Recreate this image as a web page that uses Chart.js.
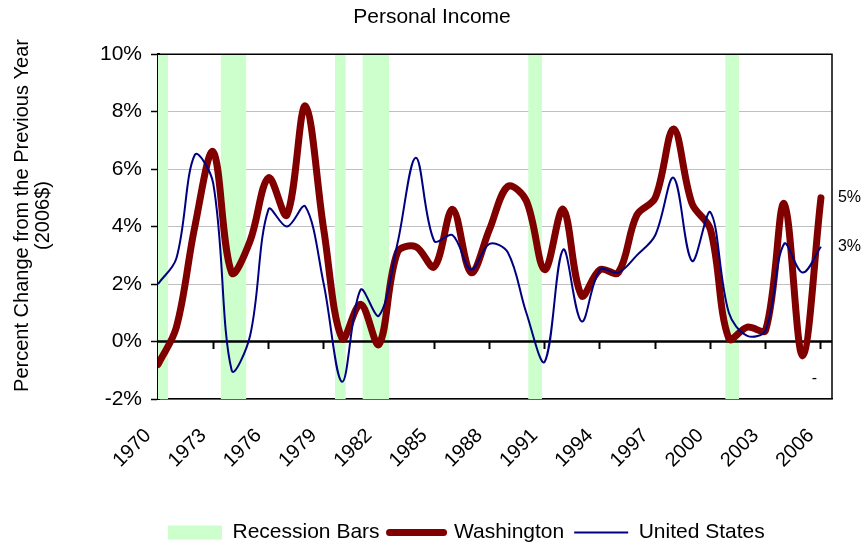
<!DOCTYPE html>
<html>
<head>
<meta charset="utf-8">
<title>Personal Income</title>
<script src="https://cdn.jsdelivr.net/npm/chart.js@4.4.1/dist/chart.umd.min.js"></script>
<style>
  html, body { margin: 0; padding: 0; background: #fff; }
</style>
</head>
<body>
<canvas id="incomeChart" width="864" height="548"></canvas>
<script>
const years = [1970, 1971, 1972, 1973, 1974, 1975, 1976, 1977, 1978, 1979,
               1980, 1981, 1982, 1983, 1984, 1985, 1986, 1987, 1988, 1989,
               1990, 1991, 1992, 1993, 1994, 1995, 1996, 1997, 1998, 1999,
               2000, 2001, 2002, 2003, 2004, 2005, 2006];

// percent change from previous year, 2006 dollars
const washington = [-0.8, 0.5, 4.0, 6.6, 2.4, 3.5, 5.7, 4.4, 8.2, 3.9,
                    0.1, 1.3, -0.1, 3.1, 3.3, 2.6, 4.6, 2.4, 3.9, 5.4,
                    4.9, 2.5, 4.6, 1.6, 2.5, 2.4, 4.4, 5.0, 7.4, 4.8,
                    3.9, 0.1, 0.5, 0.4, 4.8, -0.5, 5.0];
const unitedStates = [2.0, 2.9, 6.5, 5.5, -1.0, 0.2, 4.6, 4.0, 4.7, 2.0,
                      -1.4, 1.8, 0.9, 3.4, 6.4, 3.5, 3.7, 2.5, 3.4, 3.1,
                      1.0, -0.7, 3.2, 0.7, 2.5, 2.4, 3.0, 3.7, 5.7, 2.8,
                      4.5, 1.0, 0.2, 0.4, 3.4, 2.4, 3.3];

const recessionStart = [1970.0, 1973.4, 1979.6, 1981.1, 1990.1, 2000.8];
const recessionEnd   = [1970.55, 1974.8, 1980.2, 1982.55, 1990.85, 2001.55];

const tickYears = [1970, 1973, 1976, 1979, 1982, 1985, 1988, 1991, 1994, 1997, 2000, 2003, 2006];
const xMin = 1970, xMax = 2006.6;
const yMin = -2, yMax = 10, yStep = 2;

// stray marker text sitting under the last Washington dip
const notes = [{x: 2005.5, y: -1.3, text: '-'}];

const recessionColor = '#CCFFCC';
const waColor = '#800000';
const usColor = '#000080';
const fontFamily = "Arial, 'Liberation Sans', sans-serif";

Chart.defaults.font.family = fontFamily;
Chart.defaults.color = '#000';

function toPoints(vals) {
  return vals.map((v, i) => ({x: years[i], y: v}));
}

// each recession is a flat run at the top of the axis, broken by a null,
// filled down to the bottom of the axis
let recessionPoints = [];
recessionStart.forEach((s, i) => {
  recessionPoints.push({x: s, y: yMax}, {x: recessionEnd[i], y: yMax}, {x: recessionEnd[i], y: null});
});

const setTicks = axis => { axis.ticks = tickYears.map(v => ({value: v})); };

const frameAndLabels = {
  id: 'frameAndLabels',
  afterDatasetsDraw(chart) {
    const {ctx, chartArea: a, scales} = chart;
    ctx.save();
    ctx.strokeStyle = '#000';
    ctx.lineWidth = 1.5;
    ctx.beginPath();
    ctx.moveTo(a.left, a.top);
    ctx.lineTo(a.right, a.top);
    ctx.lineTo(a.right, a.bottom);
    ctx.stroke();

    ctx.fillStyle = '#000';
    ctx.font = '16px ' + fontFamily;
    ctx.textAlign = 'left';
    ctx.textBaseline = 'middle';
    chart.data.datasets.forEach((ds, i) => {
      if (!ds.endLabel) return;
      const meta = chart.getDatasetMeta(i);
      const last = meta.data[meta.data.length - 1];
      const v = ds.data[ds.data.length - 1].y;
      ctx.fillText(Math.round(v) + '%', last.x + 17, last.y);
    });
    notes.forEach(n => {
      ctx.fillText(n.text, scales.x.getPixelForValue(n.x), scales.y.getPixelForValue(n.y));
    });
    ctx.restore();
  }
};

let incomeChart = new Chart(document.getElementById('incomeChart'), {
  type: 'line',
  data: {
    datasets: [
      {
        label: 'Recession Bars',
        data: recessionPoints,
        borderColor: 'rgba(0,0,0,0)',
        borderWidth: 0,
        backgroundColor: recessionColor,
        fill: {value: yMin},
        pointRadius: 0,
        tension: 0,
        spanGaps: false,
        order: 4,
      },
      {
        label: 'zero',
        data: [{x: xMin, y: 0}, {x: xMax, y: 0}],
        borderColor: '#000',
        borderWidth: 2.5,
        pointRadius: 0,
        tension: 0,
        order: 3,
      },
      {
        label: 'Washington',
        data: toPoints(washington),
        borderColor: waColor,
        borderWidth: 7,
        borderCapStyle: 'round',
        borderJoinStyle: 'round',
        pointRadius: 0,
        tension: 0.35,
        endLabel: true,
        order: 2,
      },
      {
        label: 'United States',
        data: toPoints(unitedStates),
        borderColor: usColor,
        borderWidth: 2,
        pointRadius: 0,
        tension: 0.35,
        endLabel: true,
        order: 1,
      },
    ]
  },
  options: {
    responsive: false,
    animation: false,
    events: [],
    layout: { padding: { top: 0, right: 0, bottom: -5, left: 0 } },
    scales: {
      x: {
        type: 'linear',
        min: xMin,
        max: xMax,
        afterBuildTicks: setTicks,
        afterFit: axis => { axis.height = 113; },
        ticks: {
          autoSkip: false,
          minRotation: 45,
          maxRotation: 45,
          padding: 25,
          labelOffset: -10,
          font: { size: 20 },
          callback: v => String(v),
        },
        grid: { display: false, drawTicks: false },
        border: { color: '#000', width: 1.5 },
      },
      // tick marks hanging off the zero line
      xZero: {
        type: 'linear',
        axis: 'x',
        position: { y: 0 },
        min: xMin,
        max: xMax,
        afterBuildTicks: setTicks,
        ticks: { display: false },
        grid: { drawOnChartArea: false, drawTicks: true, tickLength: 7, tickColor: '#000', tickWidth: 2 },
        border: { display: false },
      },
      y: {
        min: yMin,
        max: yMax,
        afterFit: axis => { axis.width = 158; },
        ticks: {
          stepSize: yStep,
          padding: 9,
          font: { size: 21 },
          callback: v => v + '%',
        },
        grid: { color: '#C0C0C0', lineWidth: 1, tickColor: '#000', tickLength: 7, tickWidth: 1.5 },
        border: { color: '#000', width: 3 },
        title: {
          display: true,
          // leading spaces lift the title a little above the plot's midline
          text: ['    Percent Change from the Previous Year', '    (2006$)'],
          font: { size: 20, lineHeight: 1.05 },
          padding: { top: 12, bottom: 0 },
        },
      },
      // empty strip on the right that holds room for the end labels
      yRight: {
        position: 'right',
        afterFit: axis => { axis.width = 32; },
        ticks: { display: false },
        grid: { drawOnChartArea: false, drawTicks: false },
        border: { display: false },
      },
    },
    plugins: {
      title: {
        display: true,
        text: 'Personal Income',
        font: { size: 21, weight: 'normal' },
        padding: { top: 5, bottom: 24 },
      },
      legend: {
        position: 'bottom',
        align: 'start',
        fullSize: false,
        labels: {
          usePointStyle: true,
          pointStyleWidth: 54,
          boxHeight: 14,
          padding: 10,
          font: { size: 21 },
          color: '#000',
          generateLabels: () => [
            { text: 'Recession Bars', fillStyle: recessionColor, strokeStyle: recessionColor, lineWidth: 0,
              pointStyle: 'rect', hidden: false, datasetIndex: 0, fontColor: '#000' },
            { text: 'Washington', fillStyle: waColor, strokeStyle: waColor, lineWidth: 7, lineCap: 'round',
              pointStyle: 'line', hidden: false, datasetIndex: 2, fontColor: '#000' },
            { text: 'United States', fillStyle: usColor, strokeStyle: usColor, lineWidth: 2,
              pointStyle: 'line', hidden: false, datasetIndex: 3, fontColor: '#000' },
          ],
        },
      },
      tooltip: { enabled: false },
    },
  },
  plugins: [frameAndLabels],
});
</script>
</body>
</html>
